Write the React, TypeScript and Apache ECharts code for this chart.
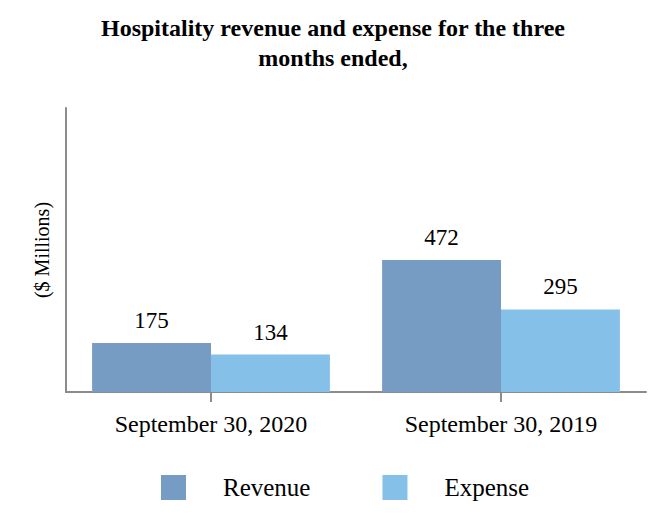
import React, { useEffect, useRef } from "react";
import * as echarts from "echarts";

const categories = ["September 30, 2020", "September 30, 2019"];
const revenue = [175, 472];
const expense = [134, 295];
const seriesNames = ["Revenue", "Expense"];
const titleText = "Hospitality revenue and expense for the three\nmonths ended,";
const yAxisName = "($ Millions)";

const FONT = "'Liberation Serif', 'Times New Roman', serif";

export default function App() {
  const ref = useRef<HTMLDivElement>(null);
  useEffect(() => {
    if (!ref.current) return;
    const chart = echarts.init(ref.current, null, { renderer: "svg" });
    chart.setOption({
      animation: false,
      backgroundColor: "#ffffff",
      textStyle: { fontFamily: FONT, color: "#000" },
      title: {
        text: titleText,
        left: "center",
        top: 8,
        textStyle: {
          fontFamily: FONT,
          fontWeight: "bold",
          fontSize: 24,
          lineHeight: 30,
          color: "#000",
        },
      },
      legend: {
        data: seriesNames,
        left: 161,
        top: 475,
        padding: 0,
        itemWidth: 25,
        itemHeight: 25,
        itemGap: 72,
        icon: "rect",
        textStyle: {
          fontFamily: FONT,
          fontSize: 25,
          color: "#000",
          padding: [0, 0, 0, 32],
        },
      },
      grid: { left: 66, right: 20, top: 108, bottom: 140, containLabel: false },
      xAxis: {
        type: "category",
        data: categories,
        axisLine: { show: true, lineStyle: { color: "#8c8c8c", width: 2 } },
        axisTick: { show: true, alignWithLabel: true, length: 10, lineStyle: { color: "#8c8c8c", width: 2 } },
        axisLabel: { fontFamily: FONT, fontSize: 24, color: "#000", margin: 20 },
      },
      yAxis: {
        type: "value",
        min: 0,
        max: 1015,
        name: yAxisName,
        nameLocation: "middle",
        nameRotate: 90,
        nameGap: 14,
        nameTextStyle: { fontFamily: FONT, fontSize: 20, color: "#000" },
        axisLine: { show: true, lineStyle: { color: "#8c8c8c", width: 2 } },
        axisTick: { show: false },
        axisLabel: { show: false },
        splitLine: { show: false },
      },
      series: [
        {
          name: seriesNames[0],
          type: "bar",
          data: revenue,
          barGap: "0%",
          barCategoryGap: "18%",
          itemStyle: { color: "#779cc4" },
          label: { show: true, position: "top", distance: 11, fontFamily: FONT, fontSize: 23, color: "#000" },
        },
        {
          name: seriesNames[1],
          type: "bar",
          data: expense,
          barGap: "0%",
          barCategoryGap: "18%",
          itemStyle: { color: "#85c0e8" },
          label: { show: true, position: "top", distance: 11, fontFamily: FONT, fontSize: 23, color: "#000" },
        },
      ],
    });
    return () => chart.dispose();
  }, []);
  return (
    <div
      ref={ref}
      style={{ position: "absolute", left: 0, top: 0, width: 666, height: 532 }}
    />
  );
}
